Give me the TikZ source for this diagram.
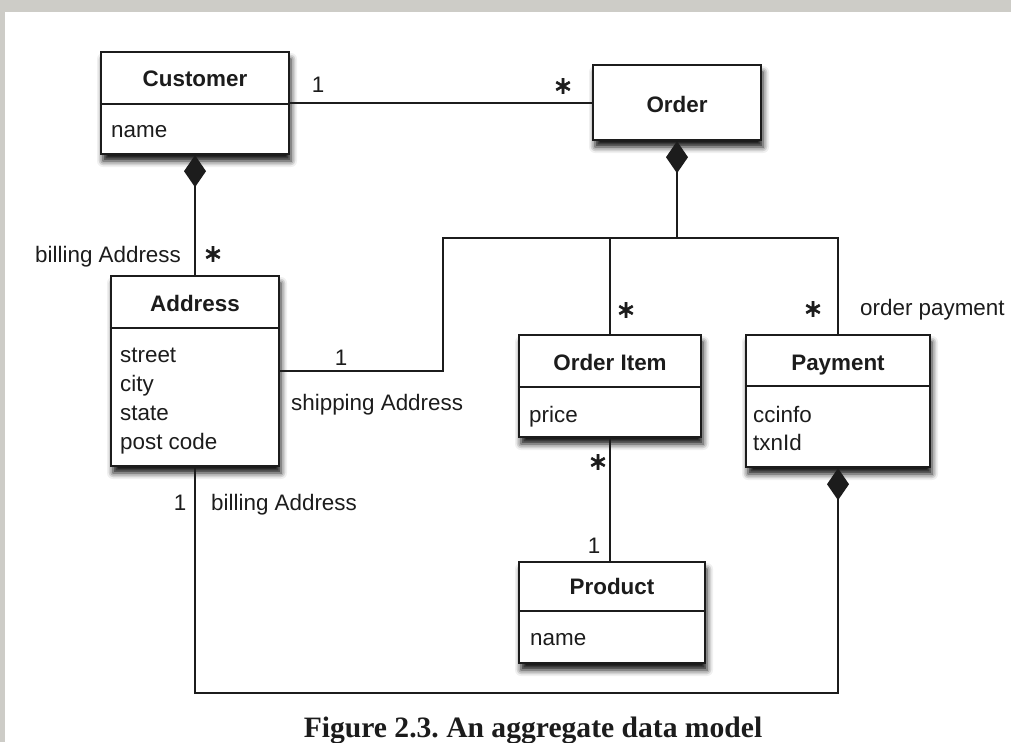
\documentclass[tikz,border=0pt]{standalone}
\usepackage{fontspec}
\setmainfont{Liberation Sans}
\newfontfamily\capfont{Liberation Serif}
\newfontfamily\starfont[FakeBold=2.5]{DejaVu Sans}
\usetikzlibrary{arrows.meta,shadows.blur}
\definecolor{frame}{HTML}{CDCCC7}
\definecolor{ink}{HTML}{1C1C1C}
\frenchspacing
\begin{document}
\begin{tikzpicture}[x=1pt,y=-1pt,
  umlbox/.style={draw=ink, line width=2.4pt, fill=white, rectangle, inner sep=0pt,
    blur shadow={shadow xshift=2pt, shadow yshift=-7pt, shadow blur radius=6pt, shadow opacity=95}},
  divline/.style={draw=ink, line width=2.4pt},
  lbl/.style={text=ink, inner sep=0pt, font=\fontsize{22.4pt}{28pt}\selectfont},
  ttl/.style={text=ink, inner sep=0pt, font=\bfseries\fontsize{22.4pt}{28pt}\selectfont, anchor=base},
  attr/.style={lbl, anchor=base west},
  mult/.style={text=ink, inner sep=0pt, font=\starfont\fontsize{24pt}{26pt}\selectfont},
  one/.style={lbl, anchor=base},
  conn/.style={draw=ink, line width=2pt},
  comp/.style={conn, {Diamond[length=32pt,width=22pt,fill=ink]}-}
]
\useasboundingbox (0,0) rectangle (1011,742);
\fill[frame] (0,0) rectangle (1011,12);
\fill[frame] (0,0) rectangle (5,742);

% class boxes
\node[umlbox, minimum width=188pt, minimum height=102pt] (customer) at (195,103) {};
\node[umlbox, minimum width=168pt, minimum height=75pt] (order) at (677,102.5) {};
\node[umlbox, minimum width=168pt, minimum height=190pt] (address) at (195,371) {};
\node[umlbox, minimum width=182pt, minimum height=102pt] (orderitem) at (610,386) {};
\node[umlbox, minimum width=184pt, minimum height=132pt] (payment) at (838,401) {};
\node[umlbox, minimum width=186pt, minimum height=101pt] (product) at (612,612.5) {};

% compartment dividers
\draw[divline] (customer.west |- 0,104) -- (customer.east |- 0,104);
\draw[divline] (address.west |- 0,328) -- (address.east |- 0,328);
\draw[divline] (orderitem.west |- 0,387) -- (orderitem.east |- 0,387);
\draw[divline] (payment.west |- 0,386) -- (payment.east |- 0,386);
\draw[divline] (product.west |- 0,611) -- (product.east |- 0,611);

% titles
\node[ttl] (tcustomer) at (195,86) {Customer};
\node[ttl] (torder) at (677,112) {Order};
\node[ttl] (taddress) at (195,311) {Address};
\node[ttl] (torderitem) at (610,370) {Order Item};
\node[ttl] (tpayment) at (838,370) {Payment};
\node[ttl] (tproduct) at (612,594) {Product};

% attributes
\node[attr] (acname) at (111,137) {name};
\node[attr] (astreet) at (120,362) {street};
\node[attr] (acity) at (120,391) {city};
\node[attr] (astate) at (120,420) {state};
\node[attr] (apost) at (120,449) {post code};
\node[attr] (aprice) at (529,422) {price};
\node[attr] (accinfo) at (753,422) {ccinfo};
\node[attr] (atxn) at (753,450) {txnId};
\node[attr] (apname) at (530,645) {name};

% connectors
\coordinate (bus) at (677,238);
\coordinate (busleft) at (443,238);
\coordinate (busright) at (838,238);
\coordinate (shipcorner) at (443,371);
\coordinate (bottom) at (0,693);

\draw[conn] (customer.east |- order.west) -- (order.west);
\draw[comp] (customer.south) -- (address.north);
\draw[comp] (order.south) -- (bus);
\draw[conn] (address.east) -- (shipcorner) -- (busleft) -- (busright) -- (payment.north);
\draw[conn] (orderitem.north |- bus) -- (orderitem.north);
\draw[conn] (orderitem.south) -- (orderitem.south |- product.north);
\draw[comp] (payment.south) -- (payment.south |- bottom) -- (address.south |- bottom) -- (address.south);

% multiplicities and role names
\node[one] (m1) at (318,92) {1};
\node[mult] (m2) at (563,86) {∗};
\node[lbl, anchor=base west] (r1) at (35,262) {billing Address};
\node[mult] (m3) at (213,254) {∗};
\node[one] (m4) at (341,365) {1};
\node[lbl, anchor=base west] (r2) at (291,410) {shipping Address};
\node[one] (m5) at (180,510) {1};
\node[lbl, anchor=base west] (r3) at (211,510) {billing Address};
\node[mult] (m6) at (626,310) {∗};
\node[mult] (m7) at (813,309) {∗};
\node[lbl, anchor=base west] (r4) at (860,315) {order payment};
\node[mult] (m8) at (598,462) {∗};
\node[one] (m9) at (594,553) {1};

% caption
\node[text=ink, inner sep=0pt, anchor=base, font=\capfont\bfseries\fontsize{29.6pt}{32pt}\selectfont] (caption) at (533,737) {Figure 2.3. An aggregate data model};
\end{tikzpicture}
\end{document}
